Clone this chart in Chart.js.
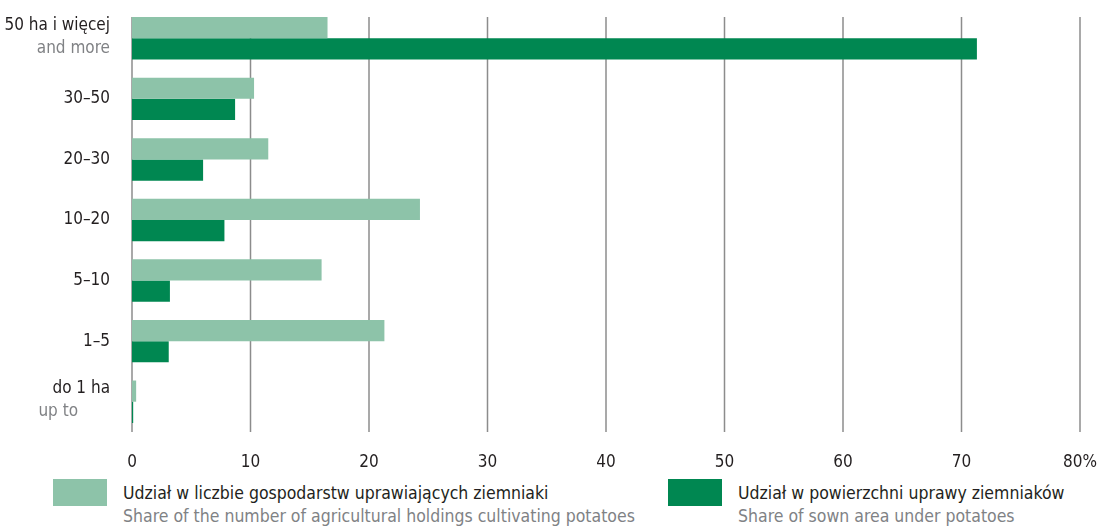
<!DOCTYPE html>
<html>
<head>
<meta charset="utf-8">
<script src="https://cdn.jsdelivr.net/npm/chart.js@4"></script>
<style>
  body { margin: 0; background: #fff; font-family: "Liberation Sans Narrow", "DejaVu Sans Condensed", sans-serif; }
  .wrap { position: relative; width: 1104px; height: 528px; }
  .chart-box { position: absolute; left: 0; top: 0; width: 1104px; height: 470px; }
  .legend-item { position: absolute; top: 479px; }
  .legend-item .swatch { position: absolute; left: 0; top: 0; width: 54px; height: 27px; }
  .legend-item .pl { position: absolute; left: 70px; top: 4px; white-space: nowrap; font-size: 17.5px; color: #231f20; }
  .legend-item .en { position: absolute; left: 70px; top: 27px; white-space: nowrap; font-size: 17.5px; color: #808285; }
</style>
</head>
<body>
<div class="wrap">
  <div class="chart-box"><canvas id="potatoChart"></canvas></div>
  <div class="legend-item" style="left:53px">
    <div class="swatch" style="background:#8dc3a9"></div>
    <div class="pl" id="lg1pl"></div>
    <div class="en" id="lg1en"></div>
  </div>
  <div class="legend-item" style="left:668px">
    <div class="swatch" style="background:#008751"></div>
    <div class="pl" id="lg2pl"></div>
    <div class="en" id="lg2en"></div>
  </div>
</div>
<script>
// data
const categories = ['50 ha i więcej', '30–50', '20–30', '10–20', '5–10', '1–5', 'do 1 ha'];
const categoriesEn = ['and more', '', '', '', '', '', 'up to'];
const holdingsShare = [16.5, 10.3, 11.5, 24.3, 16.0, 21.3, 0.35];
const areaShare = [71.3, 8.7, 6.0, 7.8, 3.2, 3.1, 0.1];
const xTicks = [0, 10, 20, 30, 40, 50, 60, 70, 80];
const seriesNames = ['Udział w liczbie gospodarstw uprawiających ziemniaki', 'Udział w powierzchni uprawy ziemniaków'];
const seriesNamesEn = ['Share of the number of agricultural holdings cultivating potatoes', 'Share of sown area under potatoes'];

const FONT = '"Liberation Sans Narrow", "DejaVu Sans Condensed", sans-serif';

document.getElementById('lg1pl').textContent = seriesNames[0];
document.getElementById('lg1en').textContent = seriesNamesEn[0];
document.getElementById('lg2pl').textContent = seriesNames[1];
document.getElementById('lg2en').textContent = seriesNamesEn[1];

// vertical grid lines, starting at the top of the first bar
const gridLines = {
  id: 'gridLines',
  beforeDatasetsDraw(chart) {
    const ctx = chart.ctx;
    const x = chart.scales.x;
    const bar = chart.getDatasetMeta(0).data[0];
    const top = bar.y - bar.height / 2;
    ctx.save();
    ctx.strokeStyle = '#8c8c8c';
    ctx.lineWidth = 1.5;
    xTicks.forEach(function (v) {
      const px = x.getPixelForValue(v);
      ctx.beginPath();
      ctx.moveTo(px, top);
      ctx.lineTo(px, chart.chartArea.bottom);
      ctx.stroke();
    });
    ctx.restore();
  }
};

// draw the two-colour category labels
const catLabels = {
  id: 'catLabels',
  afterDraw(chart) {
    const ctx = chart.ctx;
    const y = chart.scales.y;
    ctx.save();
    ctx.font = '17px ' + FONT;
    ctx.textAlign = 'right';
    ctx.textBaseline = 'middle';
    categories.forEach(function (c, i) {
      const py = y.getPixelForValue(i);
      if (categoriesEn[i]) {
        ctx.fillStyle = '#231f20';
        ctx.fillText(c, 110, py - 13);
        ctx.fillStyle = '#808285';
        ctx.fillText(categoriesEn[i], i === 6 ? 78 : 110, py + 10);
      } else {
        ctx.fillStyle = '#231f20';
        ctx.fillText(c, 110, py);
      }
    });
    ctx.restore();
  }
};

function potatoChart() {
  const ctx = document.getElementById('potatoChart');
  new Chart(ctx, {
    type: 'bar',
    data: {
      labels: categories,
      datasets: [
        { data: holdingsShare, backgroundColor: '#8dc3a9', categoryPercentage: 0.7, barPercentage: 1 },
        { data: areaShare, backgroundColor: '#008751', categoryPercentage: 0.7, barPercentage: 1 }
      ]
    },
    options: {
      indexAxis: 'y',
      responsive: true,
      maintainAspectRatio: false,
      animation: false,
      layout: { padding: { top: 8, right: 24, left: 0, bottom: 0 } },
      plugins: { legend: { display: false }, tooltip: { enabled: false } },
      scales: {
        x: {
          min: 0,
          max: 80,
          afterBuildTicks(axis) { axis.ticks = xTicks.map(v => ({ value: v })); },
          afterFit(axis) {
            axis.height = 38;
            axis.paddingRight = 0;
            axis.paddingLeft = 0;
          },
          grid: { display: false },
          border: { display: false },
          ticks: {
            padding: 12,
            color: '#231f20',
            font: { family: FONT, size: 17 },
            callback: v => v === 80 ? '80%' : v
          }
        },
        y: {
          afterFit(axis) { axis.width = 132; },
          grid: { display: false },
          border: { display: false },
          ticks: { display: false }
        }
      }
    },
    plugins: [gridLines, catLabels]
  });
}

potatoChart();
</script>
</body>
</html>
